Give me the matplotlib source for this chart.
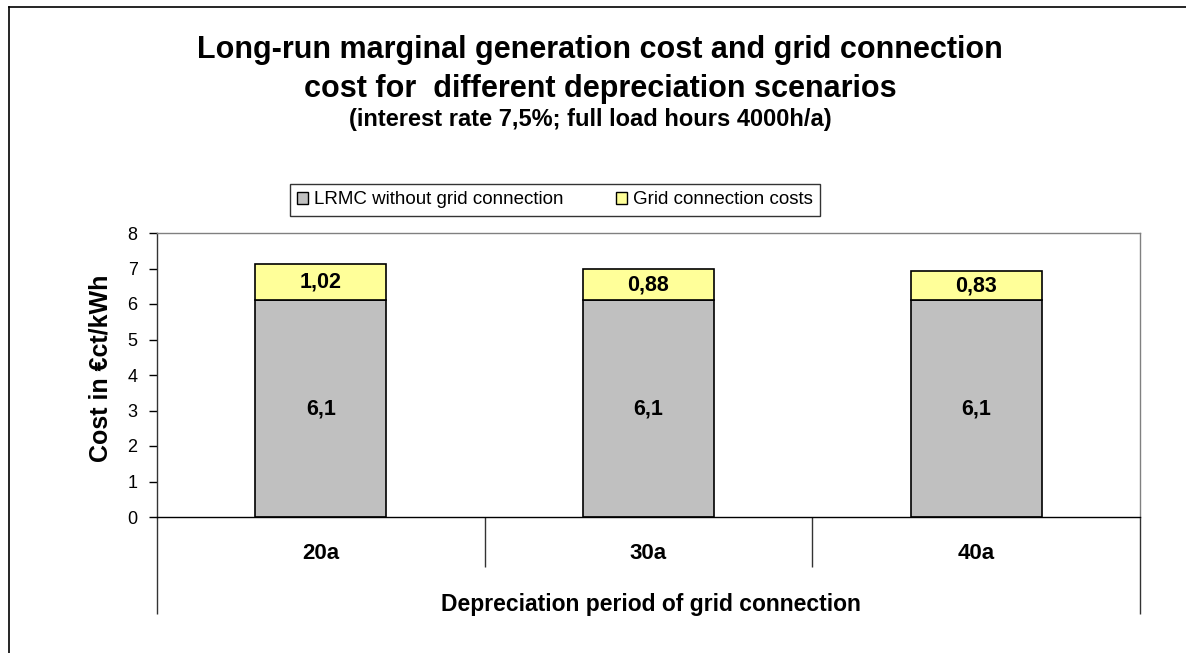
import matplotlib
matplotlib.use('Agg')
import matplotlib.pyplot as plt
from matplotlib.patches import Patch
from matplotlib.lines import Line2D
import numpy as np

plt.rcParams['font.family'] = ['Liberation Sans', 'DejaVu Sans']

# data
categories = ['20a', '30a', '40a']
lrmc = [6.1, 6.1, 6.1]
grid_cost = [1.02, 0.88, 0.83]
series_names = ['LRMC without grid connection', 'Grid connection costs']
yticks = [0, 1, 2, 3, 4, 5, 6, 7, 8]

W, H = 1186, 653
fig = plt.figure(figsize=(W / 100, H / 100), dpi=100)

# plot area in pixel terms
left, right, top, bottom = 157, 1140, 233, 517
ax = fig.add_axes([left / W, 1 - bottom / H, (right - left) / W, (bottom - top) / H])

x = np.arange(len(categories))
ax.bar(x, lrmc, width=0.4, color='#C0C0C0', edgecolor='black', linewidth=1.2)
ax.bar(x, grid_cost, width=0.4, bottom=lrmc, color='#FFFF99', edgecolor='black', linewidth=1.2)

def fmt(v):
    return f"{v:g}".replace('.', ',')

for xi, a, b in zip(x, lrmc, grid_cost):
    ax.text(xi, a / 2, fmt(a), ha='center', va='center', fontsize=15.5, fontweight='bold')
    ax.text(xi, a + b / 2, fmt(b), ha='center', va='center', fontsize=15.5, fontweight='bold')

ax.set_xlim(-0.5, len(categories) - 0.5)
ax.set_ylim(0, 8)
ax.set_yticks(yticks)
ax.tick_params(axis='y', direction='out', length=6, width=1, labelsize=13, pad=8)

# category divider ticks
ax.set_xticks([0.5, 1.5])
ax.set_xticklabels([])
ax.set_xticks([-0.5, len(categories) - 0.5], minor=True)
ax.tick_params(axis='x', which='major', direction='out', length=36, width=1, color='#333333')
ax.tick_params(axis='x', which='minor', direction='out', length=70, width=1, color='#333333')

for xi, c in zip(x, categories):
    ax.text(xi, -0.13, c, transform=ax.get_xaxis_transform(), ha='center', va='center',
            fontsize=16, fontweight='bold')

ax.spines['top'].set_color('#808080')
ax.spines['right'].set_color('#808080')
ax.spines['left'].set_color('#333333')
ax.spines['bottom'].set_color('black')
for s in ax.spines.values():
    s.set_linewidth(1)

fig.text(100 / W, 1 - 368 / H, 'Cost in €ct/kWh', rotation=90, ha='center', va='center',
         fontsize=18, fontweight='bold')
fig.text(651 / W, 1 - 605 / H, 'Depreciation period of grid connection',
         ha='center', va='center', fontsize=16.5, fontweight='bold')

# titles
fig.text(600 / W, 1 - 58 / H, 'Long-run marginal generation cost and grid connection',
         ha='center', va='baseline', fontsize=22, fontweight='bold')
fig.text(600 / W, 1 - 97 / H, 'cost for  different depreciation scenarios',
         ha='center', va='baseline', fontsize=22, fontweight='bold')
fig.text(590 / W, 1 - 126 / H, '(interest rate 7,5%; full load hours 4000h/a)',
         ha='center', va='baseline', fontsize=17, fontweight='bold')

handles = [Patch(facecolor='#C0C0C0', edgecolor='black'),
           Patch(facecolor='#FFFF99', edgecolor='black')]
leg = fig.legend(handles, series_names, loc='center', ncol=2,
                 bbox_to_anchor=(555 / W, 1 - 200 / H), fontsize=13.5,
                 frameon=True, fancybox=False, handlelength=0.6, handleheight=0.6,
                 handletextpad=0.3, columnspacing=2.8, borderpad=0.4, borderaxespad=0)
leg.get_frame().set_edgecolor('black')
leg.get_frame().set_linewidth(1)

# outer chart border
fig.add_artist(Line2D([9 / W, 1], [1 - 7 / H, 1 - 7 / H], color='black', linewidth=1.2))
fig.add_artist(Line2D([9 / W, 9 / W], [0, 1 - 7 / H], color='black', linewidth=1.2))

fig.savefig('out.png', dpi=100)
